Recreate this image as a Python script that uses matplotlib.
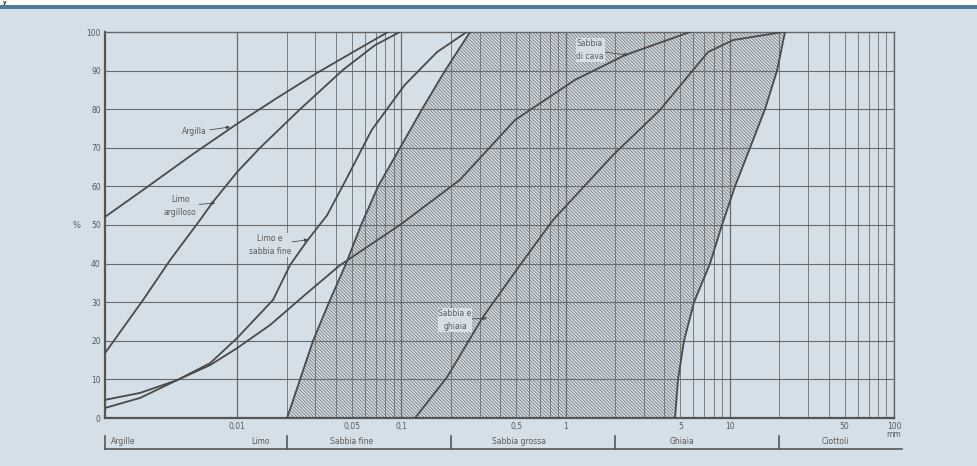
import numpy as np
import matplotlib.pyplot as plt
from matplotlib.patches import Rectangle

# curve granulometriche: diametro (mm) e passante (%)
argilla_d = [0.00157, 0.00268, 0.0054, 0.01, 0.0175, 0.0307, 0.0508, 0.083]
argilla_p = [52.1, 59.1, 68.4, 76.2, 82.9, 89.4, 94.8, 100]

limo_arg_d = [0.00157, 0.00268, 0.00391, 0.00595, 0.00705, 0.01, 0.0138, 0.0242, 0.0442, 0.0692, 0.098]
limo_arg_p = [16.8, 30.6, 40.9, 51.3, 55.7, 63.7, 70, 80, 90.2, 96.6, 100]

limo_sab_d = [0.00157, 0.00257, 0.00431, 0.00685, 0.01, 0.01656, 0.021, 0.0267, 0.0353, 0.046, 0.066, 0.105, 0.165, 0.25]
limo_sab_p = [2.6, 5.2, 9.8, 14.2, 20.7, 30.6, 39.6, 45.9, 52.5, 61.7, 74.6, 86.3, 94.8, 100]

cava_d = [0.00157, 0.00257, 0.00431, 0.00685, 0.01, 0.0159, 0.0259, 0.0424, 0.098, 0.2275, 0.4925, 1.143, 2.3, 5.73]
cava_p = [4.7, 6.5, 9.8, 13.7, 18.1, 24.1, 31.9, 39.6, 50, 61.7, 77.2, 87.6, 94, 100]

ghiaia_d = [0.1213, 0.19, 0.3146, 0.528, 0.839, 1.945, 3.76, 7.37, 10.47, 21.1]
ghiaia_p = [0, 10.6, 26.2, 39.6, 51.3, 68.1, 79.8, 94.8, 97.9, 100]

# fuso tratteggiato
fuso_p = [0, 10, 20, 30, 40, 50, 60, 70, 80, 90, 100]
fuso_sx = [0.02016, 0.02419, 0.02902, 0.03632, 0.04609, 0.05689, 0.07218, 0.09827, 0.1337, 0.1847, 0.2621]
fuso_dx = [4.642, 4.842, 5.266, 6.061, 7.58, 8.97, 10.76, 13.29, 16.39, 19.40, 21.70]

xtick_vals = [0.01, 0.05, 0.1, 0.5, 1, 5, 10, 50, 100]
xtick_labels = ['0,01', '0,05', '0,1', '0,5', '1', '5', '10', '50', '100\nmm']

classi = ['Argille', 'Limo', 'Sabbia fine', 'Sabbia grossa', 'Ghiaia', 'Ciottoli']
classi_x = [0.0017, 0.0159, 0.0369, 0.357, 4.33, 36.5]
classi_ha = ['left', 'right', 'left', 'left', 'left', 'left']
separatori = [0.02, 0.2, 2, 20]

bg = '#d4dfe8'
ink = '#4a4a4a'
txt = '#5a5a5a'

fig = plt.figure(figsize=(9.78, 4.66), dpi=100)
fig.patch.set_facecolor(bg)
# striscia bianca e linea blu in alto
fig.add_artist(Rectangle((0, 1 - 5/466), 1, 5/466, transform=fig.transFigure, color='white', lw=0))
fig.add_artist(Rectangle((0, 1 - 9/466), 1, 4/466, transform=fig.transFigure, color='#4f7b9c', lw=0))
fig.text(0.003, 1 - 2.5/466, 'y', fontsize=4, fontweight='bold', va='center', color='#222')

ax = fig.add_axes([105/978, 1 - 418/466, (894 - 105)/978, (418 - 32)/466])
ax.set_facecolor(bg)
ax.set_xscale('log')
ax.set_xlim(0.00157, 100)
ax.set_ylim(0, 100)

# griglia
for k in [0.01, 0.1, 1, 10]:
    for m in range(1, 10):
        v = k * m
        ax.axvline(v, color='#6a6a6a', lw=0.9 if m == 1 else 0.6, zorder=1)
ax.axvline(100, color='#666', lw=0.9, zorder=1)
for yv in range(10, 100, 10):
    ax.axhline(yv, color='#6a6a6a', lw=0.8, zorder=1)

plt.rcParams['hatch.linewidth'] = 0.55
ax.fill_betweenx(fuso_p, fuso_sx, fuso_dx, facecolor='none', edgecolor='#707070',
                 hatch='\\' * 10, lw=0, zorder=2)

for d, p in [(argilla_d, argilla_p), (limo_arg_d, limo_arg_p), (limo_sab_d, limo_sab_p),
             (cava_d, cava_p), (ghiaia_d, ghiaia_p), (fuso_sx, fuso_p), (fuso_dx, fuso_p)]:
    ax.plot(d, p, color=ink, lw=1.3, zorder=3, solid_capstyle='round', solid_joinstyle='round')

for s in ['left', 'bottom']:
    ax.spines[s].set_linewidth(1.6)
    ax.spines[s].set_color('#555')
for s in ['top', 'right']:
    ax.spines[s].set_linewidth(1.0)
    ax.spines[s].set_color('#666')

ax.set_xticks(xtick_vals)
ax.set_xticklabels(xtick_labels, fontsize=5.5, color=txt, linespacing=0.8, va='top')
ax.xaxis.set_minor_locator(plt.NullLocator())
ax.set_yticks(range(0, 101, 10))
ax.set_yticklabels([str(v) for v in range(0, 101, 10)], fontsize=5.5, color=txt)
ax.tick_params(length=0, pad=3)
ax.text(-0.036, 0.5, '%', transform=ax.transAxes, fontsize=6, color=txt, ha='center', va='center')

arr = dict(arrowstyle='-|>', lw=0.6, color=ink, mutation_scale=5, shrinkA=0, shrinkB=0)
ax.annotate('Argilla', xy=(0.00906, 75.4), xytext=(0.00657, 74.1), fontsize=5.5, color=txt,
            ha='right', va='center', arrowprops=arr)
ax.annotate('Limo\nargilloso', xy=(0.00735, 55.7), xytext=(0.0045, 54.9), fontsize=5.5, color=txt,
            ha='center', va='center', arrowprops=arr, linespacing=1.6)
ax.annotate('Limo e\nsabbia fine', xy=(0.02705, 46.2), xytext=(0.0159, 44.8), fontsize=5.5, color=txt,
            ha='center', va='center', arrowprops=arr, linespacing=1.6,
            bbox=dict(fc=bg, ec='none', pad=0.5))
ax.annotate('Sabbia\ndi cava', xy=(2.40, 94), xytext=(1.41, 95.3), fontsize=5.5, color=txt,
            ha='center', va='center', arrowprops=arr, linespacing=1.6,
            bbox=dict(fc=bg, ec='none', pad=0.5))
ax.annotate('Sabbia e\nghiaia', xy=(0.333, 25.9), xytext=(0.2125, 25.4), fontsize=5.5, color=txt,
            ha='center', va='center', arrowprops=arr, linespacing=1.6,
            bbox=dict(fc=bg, ec='none', pad=0.5))

# scala delle classi sotto l'asse
tr = ax.get_xaxis_transform()
ax.plot([0.00157, 112], [-0.0803, -0.0803], transform=tr, color='#555', lw=1.2, clip_on=False)
ax.plot([0.00157, 0.00157], [-0.046, -0.0803], transform=tr, color='#555', lw=1.2, clip_on=False)
for sx in separatori:
    ax.plot([sx, sx], [-0.046, -0.0803], transform=tr, color='#555', lw=1.2, clip_on=False)
for name, cx, ha in zip(classi, classi_x, classi_ha):
    ax.text(cx, -0.062, name, transform=tr, fontsize=5.5, color=txt, ha=ha, va='center')

fig.savefig('out.png', dpi=100, facecolor=bg)
